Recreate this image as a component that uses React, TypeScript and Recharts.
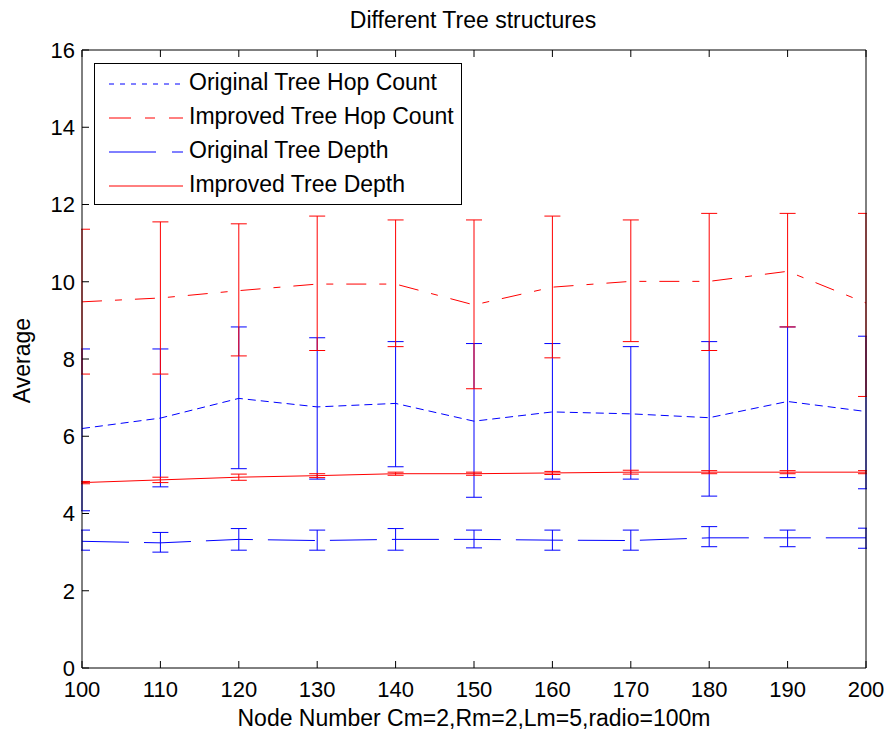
import React from 'react';
import { LineChart, Line, XAxis, YAxis, ErrorBar, Legend } from 'recharts';

// node counts on the x axis
const nodeNumbers = [100, 110, 120, 130, 140, 150, 160, 170, 180, 190, 200];

// Original tree hop count (mean, upper and lower error bounds)
const origHop = [6.2, 6.47, 6.98, 6.76, 6.85, 6.39, 6.63, 6.58, 6.48, 6.9, 6.64];
const origHopHigh = [8.26, 8.26, 8.83, 8.55, 8.45, 8.4, 8.4, 8.32, 8.45, 8.83, 8.59];
const origHopLow = [4.07, 4.69, 5.16, 4.89, 5.21, 4.42, 4.89, 4.89, 4.45, 4.93, 4.64];

// Improved tree hop count
const impHop = [9.48, 9.58, 9.77, 9.94, 9.94, 9.4, 9.86, 10.01, 10.01, 10.27, 9.45];
const impHopHigh = [11.36, 11.55, 11.5, 11.7, 11.6, 11.6, 11.7, 11.6, 11.77, 11.77, 11.77];
const impHopLow = [7.61, 7.61, 8.08, 8.22, 8.32, 7.23, 8.03, 8.45, 8.22, 8.83, 7.03];

// Original tree depth
const origDepth = [3.28, 3.24, 3.33, 3.3, 3.33, 3.33, 3.31, 3.3, 3.37, 3.37, 3.37];
const origDepthHigh = [3.57, 3.51, 3.61, 3.57, 3.61, 3.57, 3.57, 3.57, 3.66, 3.57, 3.62];
const origDepthLow = [3.05, 3.0, 3.05, 3.05, 3.05, 3.11, 3.05, 3.05, 3.14, 3.14, 3.1];

// Improved tree depth (symmetric error)
const impDepth = [4.8, 4.87, 4.94, 4.98, 5.03, 5.03, 5.05, 5.07, 5.07, 5.07, 5.07];
const impDepthErr = [0.03, 0.07, 0.08, 0.05, 0.04, 0.04, 0.04, 0.05, 0.04, 0.04, 0.04];

const xTicks = [100, 110, 120, 130, 140, 150, 160, 170, 180, 190, 200];
const yTicks = [0, 2, 4, 6, 8, 10, 12, 14, 16];

const FONT = '"Liberation Sans", Arial, Helvetica, sans-serif';
const BLUE = '#0000ff';
const RED = '#ff0000';

// plot box inside the 890x735 chart
const MARGIN = { top: 49, right: 23, bottom: 37, left: 42 };
const PLOT = { x: 82, y: 50, w: 784, h: 618 };

const chartData = nodeNumbers.map((n, i) => ({
  node: n,
  origHop: origHop[i],
  origHopErr: [origHop[i] - origHopLow[i], origHopHigh[i] - origHop[i]],
  impHop: impHop[i],
  impHopErr: [impHop[i] - impHopLow[i], impHopHigh[i] - impHop[i]],
  origDepth: origDepth[i],
  origDepthErr: [origDepth[i] - origDepthLow[i], origDepthHigh[i] - origDepth[i]],
  impDepth: impDepth[i],
  impDepthErr: impDepthErr[i],
}));

const legendItems = [
  { label: 'Original Tree Hop Count', color: BLUE, dash: '5 6' },
  { label: 'Improved Tree Hop Count', color: RED, dash: '22 14 10 14' },
  { label: 'Original Tree Depth', color: BLUE, dash: '47 16' },
  { label: 'Improved Tree Depth', color: RED, dash: undefined },
];

/**
 * MATLAB style boxed legend with line samples
 */
function BoxLegend() {
  return (
    <div
      style={{
        position: 'relative',
        width: 368,
        height: 142,
        boxSizing: 'border-box',
        border: '1px solid #000',
        background: '#fff',
        fontFamily: FONT,
        fontSize: 23,
        color: '#000',
      }}
    >
      {legendItems.map((item, i) => {
        const cy = 20 + i * 34;
        return (
          <div key={item.label}>
            <svg
              width={74}
              height={6}
              style={{ position: 'absolute', left: 14, top: cy - 3 }}
            >
              <line
                x1={0}
                y1={3}
                x2={74}
                y2={3}
                stroke={item.color}
                strokeWidth={1}
                strokeDasharray={item.dash}
              />
            </svg>
            <div
              style={{
                position: 'absolute',
                left: 94,
                top: cy - 13,
                lineHeight: '23px',
                whiteSpace: 'nowrap',
              }}
            >
              {item.label}
            </div>
          </div>
        );
      })}
    </div>
  );
}

export default function App() {
  const tickStyle = { fill: '#000', fontSize: 22, fontFamily: FONT };

  return (
    <div
      style={{
        position: 'absolute',
        left: 0,
        top: 0,
        width: 890,
        height: 735,
        background: '#fff',
        fontFamily: FONT,
      }}
    >
      {/* error bars at the ends get cut by the plot box, like MATLAB */}
      <style>{`.recharts-errorBars { clip-path: url(#plotBoxClip); }`}</style>
      <svg width={0} height={0} style={{ position: 'absolute' }}>
        <defs>
          <clipPath id="plotBoxClip" clipPathUnits="userSpaceOnUse">
            <rect x={PLOT.x - 1} y={PLOT.y - 1} width={PLOT.w + 2} height={PLOT.h + 2} />
          </clipPath>
        </defs>
      </svg>

      <div
        style={{
          position: 'absolute',
          left: 0,
          width: 946,
          top: 9,
          textAlign: 'center',
          fontSize: 23,
          lineHeight: '23px',
          color: '#000',
        }}
      >
        Different Tree structures
      </div>

      <LineChart width={890} height={735} data={chartData} margin={MARGIN}>
        <XAxis
          dataKey="node"
          type="number"
          domain={[100, 200]}
          ticks={xTicks}
          interval={0}
          allowDataOverflow
          height={30}
          stroke="#000"
          tickSize={-7}
          tickMargin={20}
          tick={tickStyle}
        />
        <XAxis
          xAxisId="top"
          orientation="top"
          type="number"
          dataKey="node"
          domain={[100, 200]}
          ticks={xTicks}
          interval={0}
          height={1}
          stroke="#000"
          tickSize={-7}
          tickFormatter={() => ''}
        />
        <YAxis
          type="number"
          domain={[0, 16]}
          ticks={yTicks}
          interval={0}
          allowDataOverflow
          width={40}
          stroke="#000"
          tickSize={-7}
          tickMargin={14}
          tick={tickStyle}
        />
        <YAxis
          yAxisId="right"
          orientation="right"
          type="number"
          domain={[0, 16]}
          ticks={yTicks}
          interval={0}
          width={1}
          stroke="#000"
          tickSize={-7}
          tickFormatter={() => ''}
        />

        <Legend
          layout="vertical"
          align="center"
          verticalAlign="middle"
          content={() => <BoxLegend />}
          wrapperStyle={{ left: 94, top: 63, width: 368, height: 142 }}
        />

        <Line
          dataKey="origHop"
          stroke={BLUE}
          strokeWidth={1}
          strokeDasharray="8 5"
          dot={false}
          isAnimationActive={false}
        >
          <ErrorBar dataKey="origHopErr" width={8} stroke={BLUE} strokeWidth={1} direction="y" />
        </Line>
        <Line
          dataKey="impHop"
          stroke={RED}
          strokeWidth={1}
          strokeDasharray="20 13 7 13"
          dot={false}
          isAnimationActive={false}
        >
          <ErrorBar dataKey="impHopErr" width={8} stroke={RED} strokeWidth={1} direction="y" />
        </Line>
        <Line
          dataKey="origDepth"
          stroke={BLUE}
          strokeWidth={1}
          strokeDasharray="47 15"
          dot={false}
          isAnimationActive={false}
        >
          <ErrorBar dataKey="origDepthErr" width={8} stroke={BLUE} strokeWidth={1} direction="y" />
        </Line>
        <Line
          dataKey="impDepth"
          stroke={RED}
          strokeWidth={1}
          dot={false}
          isAnimationActive={false}
        >
          <ErrorBar dataKey="impDepthErr" width={8} stroke={RED} strokeWidth={1} direction="y" />
        </Line>
      </LineChart>

      <div
        style={{
          position: 'absolute',
          left: 0,
          width: 948,
          top: 707,
          textAlign: 'center',
          fontSize: 23,
          lineHeight: '23px',
          color: '#000',
          whiteSpace: 'nowrap',
        }}
      >
        Node Number Cm=2,Rm=2,Lm=5,radio=100m
      </div>

      <div
        style={{
          position: 'absolute',
          left: 22 - 60,
          top: 360 - 11.5,
          width: 120,
          height: 23,
          textAlign: 'center',
          fontSize: 23,
          lineHeight: '23px',
          color: '#000',
          transform: 'rotate(-90deg)',
          whiteSpace: 'nowrap',
        }}
      >
        Average
      </div>
    </div>
  );
}
